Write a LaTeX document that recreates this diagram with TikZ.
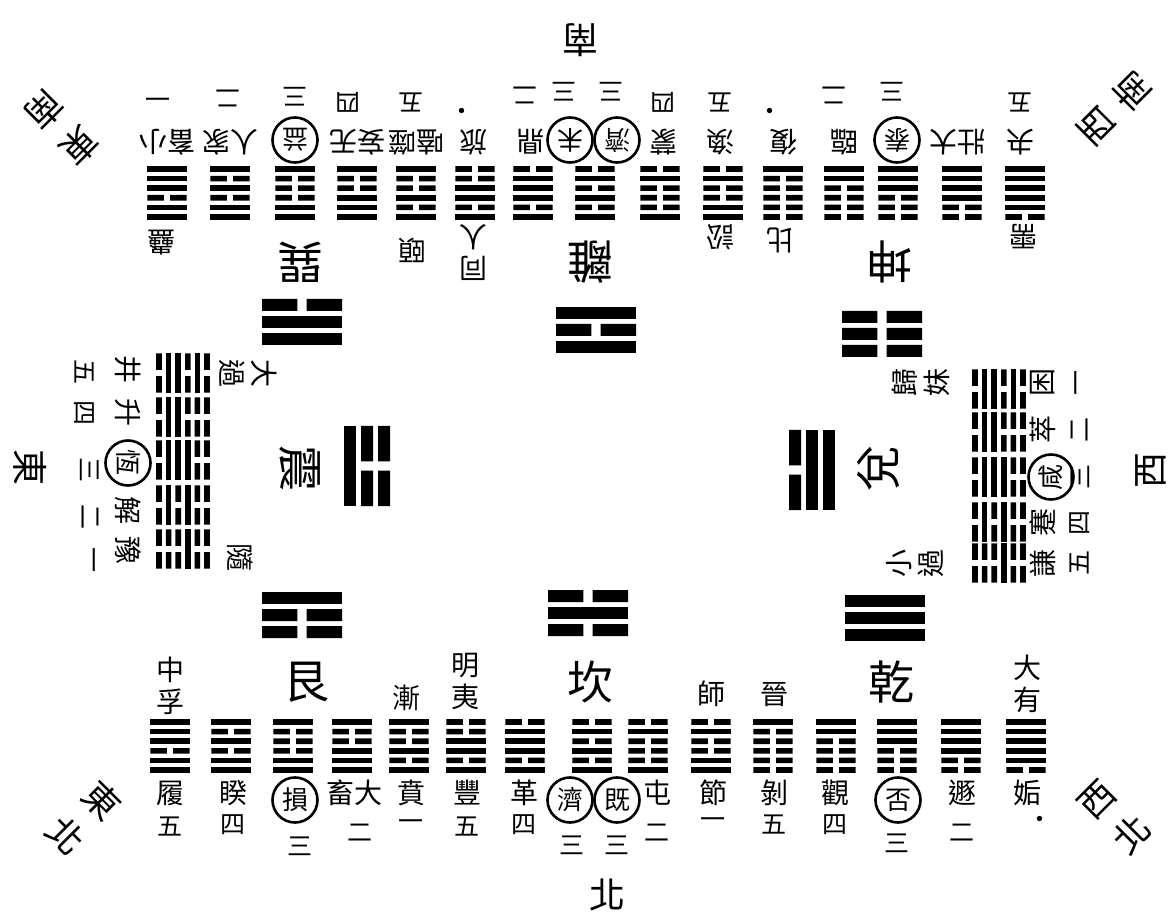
\documentclass[tikz,border=0pt]{standalone}
\usepackage{fontspec}
\setmainfont{Noto Sans CJK TC}

% hexagram: centre, turn, lines from the bottom up (1 whole, 0 broken)
\newcommand{\hexg}[3]{%
  \begin{scope}[shift={#1},rotate=#2]
    \foreach \yao [count=\k] in {#3} {
      \pgfmathsetmacro\yy{(\k-3.5)*4.8}
      \ifnum\yao=1
        \fill (-9.8pt,\yy pt-1.4pt) rectangle (9.8pt,\yy pt+1.4pt);
      \else
        \fill (-9.8pt,\yy pt-1.4pt) rectangle (-1.6pt,\yy pt+1.4pt)
              (1.6pt,\yy pt-1.4pt) rectangle (9.8pt,\yy pt+1.4pt);
      \fi
    }
  \end{scope}}
% trigram, drawn larger
\newcommand{\trig}[3]{%
  \begin{scope}[shift={#1},rotate=#2]
    \foreach \yao [count=\k] in {#3} {
      \pgfmathsetmacro\yy{(\k-2)*8.5}
      \ifnum\yao=1
        \fill (-20pt,\yy pt-3pt) rectangle (20pt,\yy pt+3pt);
      \else
        \fill (-20pt,\yy pt-3pt) rectangle (-2.3pt,\yy pt+3pt)
              (2.3pt,\yy pt-3pt) rectangle (20pt,\yy pt+3pt);
      \fi
    }
  \end{scope}}

\tikzset{
  ming/.style={inner sep=0pt, align=center, font=\fontsize{14}{16}\selectfont},
  shu/.style={inner sep=0pt, font=\fontsize{12.5}{13}\selectfont},
  quan/.style={draw, circle, line width=1.3pt, inner sep=0pt, minimum size=22.5pt, font=\fontsize{13}{13}\selectfont},
  gua/.style={inner sep=0pt, font=\fontsize{23}{23}\selectfont},
  fang/.style={inner sep=0pt, align=center, font=\fontsize{18}{25}\selectfont},
}

\begin{document}
\begin{tikzpicture}[x=0.5pt,y=-0.5pt]
\fill[white] (0,0) rectangle (1175,915);
\useasboundingbox (0,0) rectangle (1175,915);

% north: Gen, Kan, Qian
\hexg{(170,746)}{0}{1,1,0,1,1,1}
\hexg{(231,746)}{0}{1,1,0,1,0,1}
\hexg{(293,746)}{0}{1,1,0,0,0,1}
\hexg{(352,746)}{0}{1,1,1,0,0,1}
\hexg{(409,746)}{0}{1,0,1,0,0,1}
\hexg{(466,746)}{0}{1,0,1,1,0,0}
\hexg{(525,746)}{0}{1,0,1,1,1,0}
\hexg{(592,746)}{0}{1,0,1,0,1,0}
\hexg{(648,746)}{0}{1,0,0,0,1,0}
\hexg{(711,746)}{0}{1,1,0,0,1,0}
\hexg{(773,746)}{0}{0,0,0,0,0,1}
\hexg{(836,746)}{0}{0,0,0,0,1,1}
\hexg{(897,746)}{0}{0,0,0,1,1,1}
\hexg{(961,746)}{0}{0,0,1,1,1,1}
\hexg{(1026,746)}{0}{0,1,1,1,1,1}
\trig{(302,615)}{0}{0,0,1}
\trig{(588,613)}{0}{0,1,0}
\trig{(885,618)}{0}{1,1,1}
\node[gua] (gen) at (306,682) {艮};
\node[gua] (kan) at (590,682) {坎};
\node[gua] (qian) at (891,682) {乾};
\foreach \x/\t [count=\i] in {170/履,233/睽,354/畜大,411/賁,467/豐,524/革,657/屯,713/節,774/剝,835/觀,962/遯,1027/姤}
  \node[ming] (bn\i) at (\x,793) {\t};
\foreach \x/\t [count=\i] in {295/損,570/濟,617/既,898/否}
  \node[quan] (bq\i) at (\x,800) {\t};
\foreach \x/\y/\t [count=\i] in {170/827/五,233/825/四,300/846/三,360/833/二,411/825/一,467/827/五,524/825/四,572/845/三,617/845/三,657/833/二,713/823/一,774/825/五,835/825/四,897/843/三,962/833/二,1040/822/·}
  \node[shu] (bs\i) at (\x,\y) {\t};
\node[ming] (by1) at (170,686) {中\\孚};
\node[ming] (bg1) at (406,698) {漸};
\node[ming] (by2) at (465,681) {明\\夷};
\node[ming] (bg2) at (711,694) {師};
\node[ming] (by3) at (774,695) {晉};
\node[ming] (bg3) at (1027,684) {大\\有};

% south: Xun, Li, Kun
\hexg{(167,193)}{180}{1,1,1,0,1,1}
\hexg{(230,193)}{180}{1,0,1,0,1,1}
\hexg{(295,193)}{180}{1,0,0,0,1,1}
\hexg{(357,193)}{180}{1,0,0,1,1,1}
\hexg{(416,193)}{180}{1,0,0,1,0,1}
\hexg{(475,193)}{180}{0,0,1,1,0,1}
\hexg{(533,193)}{180}{0,1,1,1,0,1}
\hexg{(595,193)}{180}{0,1,0,1,0,1}
\hexg{(660,193)}{180}{0,1,0,0,0,1}
\hexg{(723,193)}{180}{0,1,0,0,1,1}
\hexg{(783,193)}{180}{1,0,0,0,0,0}
\hexg{(844,193)}{180}{1,1,0,0,0,0}
\hexg{(898,193)}{180}{1,1,1,0,0,0}
\hexg{(962,193)}{180}{1,1,1,1,0,0}
\hexg{(1025,193)}{180}{1,1,1,1,1,0}
\trig{(302,322)}{180}{0,1,1}
\trig{(596,330)}{180}{1,0,1}
\trig{(882,334)}{180}{0,0,0}
\node[gua,rotate=180] (xun) at (300,262) {巽};
\node[gua,rotate=180] (li) at (590,262) {離};
\node[gua,rotate=180] (kun) at (889,262) {坤};
\foreach \x/\t [count=\i] in {167/畜小,230/人家,357/妄无,416/嗑噬,473/旅,530/鼎,663/蒙,720/渙,783/復,844/臨,957/壯大,1020/夬}
  \node[ming,rotate=180] (tn\i) at (\x,142) {\t};
\foreach \x/\t [count=\i] in {295/益,570/未,617/濟,897/泰}
  \node[quan,rotate=180] (tq\i) at (\x,140) {\t};
\foreach \x/\y/\t [count=\i] in {158/95/一,228/98/二,295/97/三,348/102/四,411/102/五,462/108/·,525/95/二,564/92/三,611/92/三,663/102/四,720/102/五,770/108/·,834/95/二,892/92/三,1020/102/五}
  \node[shu,rotate=180] (ts\i) at (\x,\y) {\t};
\node[ming,rotate=180] (tg1) at (161,243) {蠱};
\node[ming,rotate=180] (ty1) at (412,250) {頤};
\node[ming,rotate=180] (tg2) at (473,252) {同\\人};
\node[ming,rotate=180] (ty2) at (720,237) {訟};
\node[ming,rotate=180] (tg3) at (780,240) {比};
\node[ming,rotate=180] (ty3) at (1023,237) {需};

% east: Zhen
\hexg{(183,373)}{-90}{0,1,1,0,1,0}
\hexg{(183,417)}{-90}{0,1,1,0,0,0}
\hexg{(183,460)}{-90}{0,1,1,1,0,0}
\hexg{(183,505)}{-90}{0,1,0,1,0,0}
\hexg{(183,549)}{-90}{0,0,0,1,0,0}
\trig{(367,466)}{-90}{1,0,0}
\node[gua,rotate=-90] (zhen) at (300,468) {震};
\foreach \y/\t [count=\i] in {370/井,413/升,510/解,550/豫}
  \node[ming,rotate=-90] (ln\i) at (128,\y) {\t};
\node[quan,rotate=-90] (lq) at (128,463) {恆};
\foreach \x/\y/\t [count=\i] in {84/372/五,84/413/四,90/470/三,90/517/二,90/560/一}
  \node[shu,rotate=-90] (ls\i) at (\x,\y) {\t};
\node[ming,rotate=-90] (ly) at (248,374) {大\\過};
\node[ming,rotate=-90] (lg) at (240,557) {隨};

% west: Dui
\hexg{(999,389)}{90}{0,1,0,1,1,0}
\hexg{(999,432)}{90}{0,0,0,1,1,0}
\hexg{(999,477)}{90}{0,0,1,1,1,0}
\hexg{(999,522)}{90}{0,0,1,0,1,0}
\hexg{(999,563)}{90}{0,0,1,0,0,0}
\trig{(812,470)}{90}{1,1,0}
\node[gua,rotate=90] (dui) at (878,468) {兌};
\foreach \y/\t [count=\i] in {383/困,430/萃,523/蹇,563/謙}
  \node[ming,rotate=90] (rn\i) at (1043,\y) {\t};
\node[quan,rotate=90] (rq) at (1051,477) {咸};
\foreach \y/\t [count=\i] in {383/一,430/二,477/三,523/四,563/五}
  \node[shu,rotate=90] (rs\i) at (1080,\y) {\t};
\node[ming,rotate=90] (rg) at (921,383) {歸\\妹};
\node[ming,rotate=90] (ry) at (915,563) {小\\過};

% quarters
\node[fang,rotate=180] (nan) at (580,40) {南};
\node[fang] (bei) at (607,895) {北};
\node[fang,rotate=-90] (dong) at (30,468) {東};
\node[fang,rotate=90] (xi) at (1151,470) {西};
\node[fang,rotate=-135] (dn) at (62,128) {東\\南};
\node[fang,rotate=135] (xn) at (1115,108) {西\\南};
\node[fang,rotate=-45] (db) at (84,818) {東\\北};
\node[fang,rotate=45] (xb) at (1115,817) {西\\北};
\end{tikzpicture}
\end{document}
